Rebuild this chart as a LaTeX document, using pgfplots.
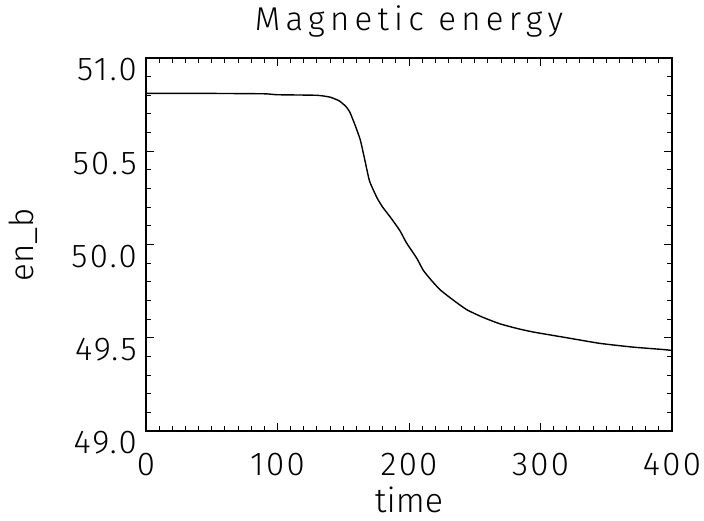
\documentclass[border=0pt]{standalone}
\usepackage{fontspec}
\setmainfont{Fira Sans Light}
\newfontfamily\titlefont[LetterSpace=16]{Fira Sans Light}
\newfontfamily\tickfont[LetterSpace=7]{Fira Sans Light}
\usepackage{pgfplots}
\pgfplotsset{compat=1.18}

\begin{document}
\begin{tikzpicture}
\begin{axis}[
  at={(0pt,0pt)}, anchor=south west,
  scale only axis,
  width=526pt, height=373pt,
  xmin=0, xmax=400, ymin=49.0, ymax=51.0,
  xtick={0,100,...,400},
  ytick={49.0,49.5,...,51.0},
  minor x tick num=9,
  minor y tick num=4,
  tick align=inside,
  major tick length=8pt,
  minor tick length=5pt,
  every tick/.style={black, line width=0.9pt},
  axis line style={black, line width=1.1pt},
  /pgf/number format/assume math mode=true,
  yticklabel style={/pgf/number format/.cd, fixed, fixed zerofill, precision=1, /tikz/.cd,
    font=\tickfont\fontsize{33}{33}\selectfont, inner sep=0pt, anchor=east, xshift=-9pt, yshift=-12pt},
  xticklabel style={font=\tickfont\fontsize{33}{33}\selectfont, inner sep=0pt, anchor=north, yshift=-22pt},
  title={\titlefont Magnetic energy},
  title style={font=\fontsize{33}{33}\selectfont, inner sep=0pt, at={(axis description cs:0.5,1)}, anchor=base, yshift=21pt},
  xlabel={time},
  xlabel style={font=\fontsize{34}{34}\selectfont, inner sep=0pt, at={(axis description cs:0.5,0)}, anchor=base, yshift=-82pt},
  ylabel={en\_b},
  ylabel style={font=\fontsize{33}{33}\selectfont, inner sep=0pt, at={(axis description cs:-0.2338,0.5)}, anchor=center},
]
\addplot[black, line width=1.4pt, smooth, tension=0.3] coordinates {
  (0,50.81) (50,50.81) (90,50.808) (100,50.803) (130,50.80) (140,50.79)
  (147,50.77) (152,50.74) (155,50.71) (159,50.64) (163,50.56) (166.5,50.45)
  (170,50.34) (175.7,50.25) (180,50.20) (186,50.145) (193,50.075) (198,50.01)
  (206,49.925) (211,49.86) (218,49.80) (224,49.755) (234,49.70) (244,49.65)
  (256,49.61) (269,49.575) (282,49.55) (295,49.53) (320,49.50) (345,49.47)
  (370,49.45) (393,49.437) (400,49.432)
};
\end{axis}
\path[use as bounding box] (-146pt,-90pt) rectangle (558pt,431pt);
\end{tikzpicture}
\end{document}
